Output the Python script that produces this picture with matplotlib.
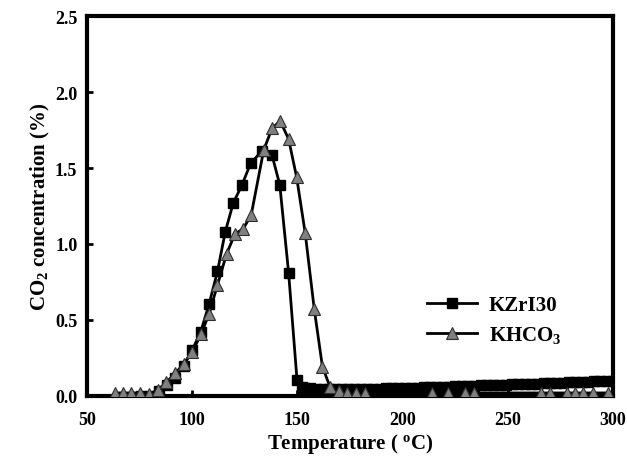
import matplotlib
matplotlib.use("Agg")
import matplotlib.pyplot as plt
from matplotlib import rcParams

# KZrI30 (black squares) - main peak
kzr_temp = [75.6, 79.8, 84.0, 88.0, 92.0, 95.9, 99.9, 104.0, 108.0, 112.0,
            115.7, 119.5, 123.7, 127.7, 133.0, 137.9, 141.6, 145.8, 149.8, 152.0]
kzr_conc = [0.0, 0.0, 0.035, 0.07, 0.12, 0.20, 0.30, 0.42, 0.605, 0.82,
            1.08, 1.27, 1.39, 1.53, 1.61, 1.585, 1.39, 0.81, 0.105, 0.06]

# KZrI30 - dense tail after the peak
kzr_tail_temp = [153, 156, 159, 162, 165, 168, 171, 174, 177, 180,
                 183, 186, 189, 192, 195, 198, 201, 204, 207, 210,
                 213, 216, 219, 222, 225, 228, 231, 234, 237, 240,
                 243, 246, 249, 252, 255, 258, 261, 264, 267, 270,
                 273, 276, 279, 282, 285, 288, 291, 294, 297, 300]
kzr_tail_conc = [0.055, 0.05, 0.048, 0.047, 0.046, 0.046, 0.046, 0.046, 0.046, 0.046,
                 0.047, 0.048, 0.049, 0.05, 0.051, 0.052, 0.053, 0.054, 0.055, 0.057,
                 0.058, 0.059, 0.06, 0.062, 0.063, 0.065, 0.066, 0.067, 0.069, 0.07,
                 0.072, 0.073, 0.075, 0.076, 0.078, 0.079, 0.081, 0.082, 0.084, 0.085,
                 0.087, 0.088, 0.09, 0.091, 0.093, 0.094, 0.096, 0.097, 0.099, 0.1]

# KHCO3 (grey triangles)
khco3_temp = [63.3, 67.2, 71.1, 75.4, 79.5, 83.8, 87.7, 92.0, 95.9, 100.0,
              104.3, 108.0, 112.0, 116.3, 120.3, 124.2, 128.0, 134.0, 137.9, 141.8,
              145.8, 149.6, 153.7, 158.0, 161.9, 165.5, 169.8, 173.7, 177.7, 181.9,
              214.0, 221.6, 229.5, 234.0, 265.6, 270.0, 277.9, 281.8, 285.8, 290.5, 297.6]
khco3_conc = [0.02, 0.02, 0.02, 0.02, 0.013, 0.04, 0.09, 0.15, 0.21, 0.29,
              0.41, 0.54, 0.73, 0.934, 1.066, 1.10, 1.19, 1.62, 1.76, 1.81,
              1.69, 1.44, 1.07, 0.57, 0.19, 0.06, 0.03, 0.02, 0.02, 0.02,
              0.02, 0.02, 0.02, 0.02, 0.02, 0.02, 0.02, 0.02, 0.02, 0.02, 0.02]

x_ticks = [50, 100, 150, 200, 250, 300]
y_ticks = [0.0, 0.5, 1.0, 1.5, 2.0, 2.5]

# Times-like bold fonts everywhere
rcParams['font.family'] = 'serif'
rcParams['font.serif'] = ['Liberation Serif']
rcParams['font.weight'] = 'bold'
rcParams['mathtext.fontset'] = 'custom'
rcParams['mathtext.rm'] = 'Liberation Serif:bold'
rcParams['mathtext.bf'] = 'Liberation Serif:bold'
rcParams['mathtext.it'] = 'Liberation Serif:bold'

fig = plt.figure(figsize=(6.27, 4.6), dpi=100, facecolor='white')
ax = fig.add_axes([0.1388, 0.137, 0.839, 0.826])

ax.plot(kzr_temp + kzr_tail_temp, kzr_conc + kzr_tail_conc, color='black',
        linewidth=2, marker='s', markersize=7, markerfacecolor='black',
        markeredgecolor='black', label='KZrI30', zorder=2)
ax.plot(khco3_temp, khco3_conc, color='black', linewidth=2, marker='^',
        markersize=9, markerfacecolor='#808080', markeredgecolor='#303030',
        markeredgewidth=0.8, label='KHCO$_3$', zorder=3)

ax.set_xlim(50, 300)
ax.set_ylim(0, 2.5)
ax.set_xticks(x_ticks)
ax.set_yticks(y_ticks)
ax.set_xticklabels([str(t) for t in x_ticks])
ax.set_yticklabels(['%.1f' % t for t in y_ticks])

# thick frame, short inward ticks
for side in ['top', 'left', 'right', 'bottom']:
    ax.spines[side].set_linewidth(3)
ax.tick_params(axis='both', direction='in', length=4, width=2, labelsize=13, pad=7)
ax.tick_params(axis='x', pad=11)

ax.set_xlabel('Temperature ( $^{o}$C)', fontsize=15, fontweight='bold', labelpad=2)
ax.set_ylabel('CO$_2$ concentration (%)', fontsize=15, fontweight='bold', labelpad=2)

ax.legend(loc='center left', bbox_to_anchor=(0.627, 0.2), frameon=False,
          fontsize=15, handlelength=2.4, handletextpad=0.55, borderpad=0,
          labelspacing=0.45)

fig.savefig('out.png', dpi=100, facecolor='white')
